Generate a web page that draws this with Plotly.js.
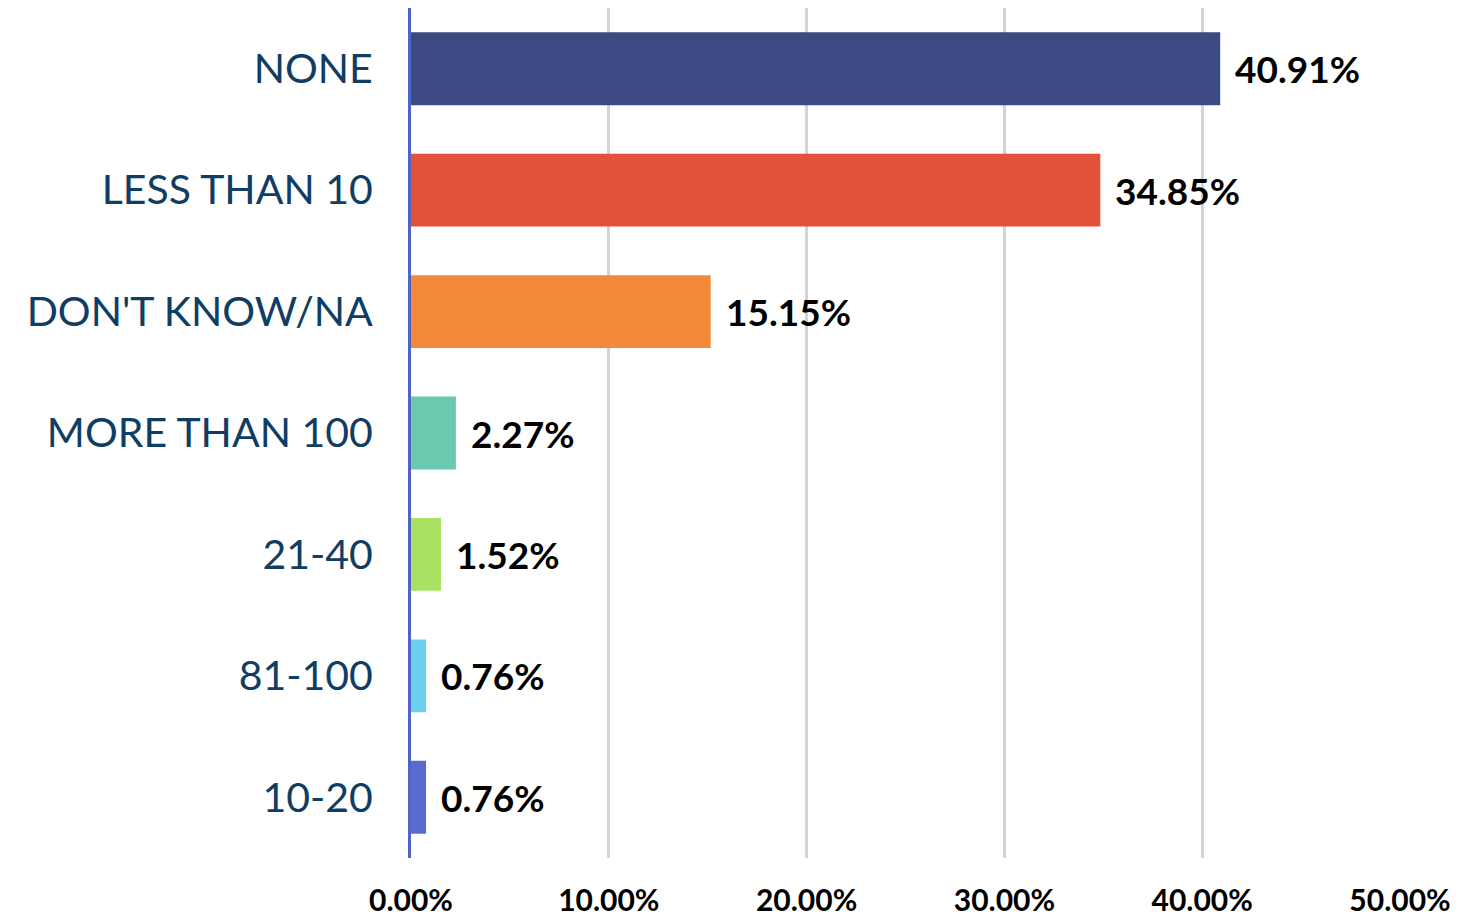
<!DOCTYPE html>
<html><head><meta charset="utf-8">
<script src="https://cdn.plot.ly/plotly-3.0.1.min.js"></script>
<style>html,body{margin:0;padding:0;background:#fff}#chart{width:1460px;height:918px}</style>
</head><body><div id="chart"></div>
<script>
var categories = ["NONE", "LESS THAN 10", "DON'T KNOW/NA", "MORE THAN 100", "21-40", "81-100", "10-20"];
var values = [40.91, 34.85, 15.15, 2.27, 1.52, 0.76, 0.76];
var colors = ["#3b4a82", "#e4513a", "#f28a3a", "#6acab0", "#a9e262", "#6dcfef", "#5b6bcd"];
var tickVals = [0, 10, 20, 30, 40, 50];
var tickText = tickVals.map(function(t){ return t.toFixed(2) + '%'; });

var trace = {
  type: 'bar', orientation: 'h',
  x: values, y: categories,
  marker: {color: colors, line: {width: 0}},
  width: 0.6,
  hoverinfo: 'none'
};
var annotations = values.map(function(v, i){
  return {x: v, y: categories[i], xref: 'x', yref: 'y', text: v.toFixed(2) + '%',
    showarrow: false, xanchor: 'left', xshift: 13,
    font: {family: 'Lato, sans-serif', size: 37, color: '#000', weight: 'bold'}};
});
var layout = {
  width: 1460, height: 918,
  margin: {l: 411, r: 60, t: 8, b: 60},
  paper_bgcolor: '#fff', plot_bgcolor: '#fff',
  showlegend: false,
  xaxis: {range: [0, 50], tickvals: tickVals, ticktext: tickText,
    showgrid: true, gridcolor: '#d4d4d4', gridwidth: 3, zeroline: false,
    showline: false, ticks: '', ticklabelstandoff: 22,
    tickfont: {family: 'Lato, sans-serif', size: 30, color: '#000', weight: 'bold'}},
  yaxis: {autorange: 'reversed', showline: true, linecolor: '#4f63c9', linewidth: 3,
    showgrid: false, ticks: '', ticklabelstandoff: 27,
    tickfont: {family: 'Lato, sans-serif', size: 41, color: '#0f3d63'}},
  annotations: annotations
};
Plotly.newPlot('chart', [trace], layout, {displayModeBar: false, staticPlot: true});
</script></body></html>
